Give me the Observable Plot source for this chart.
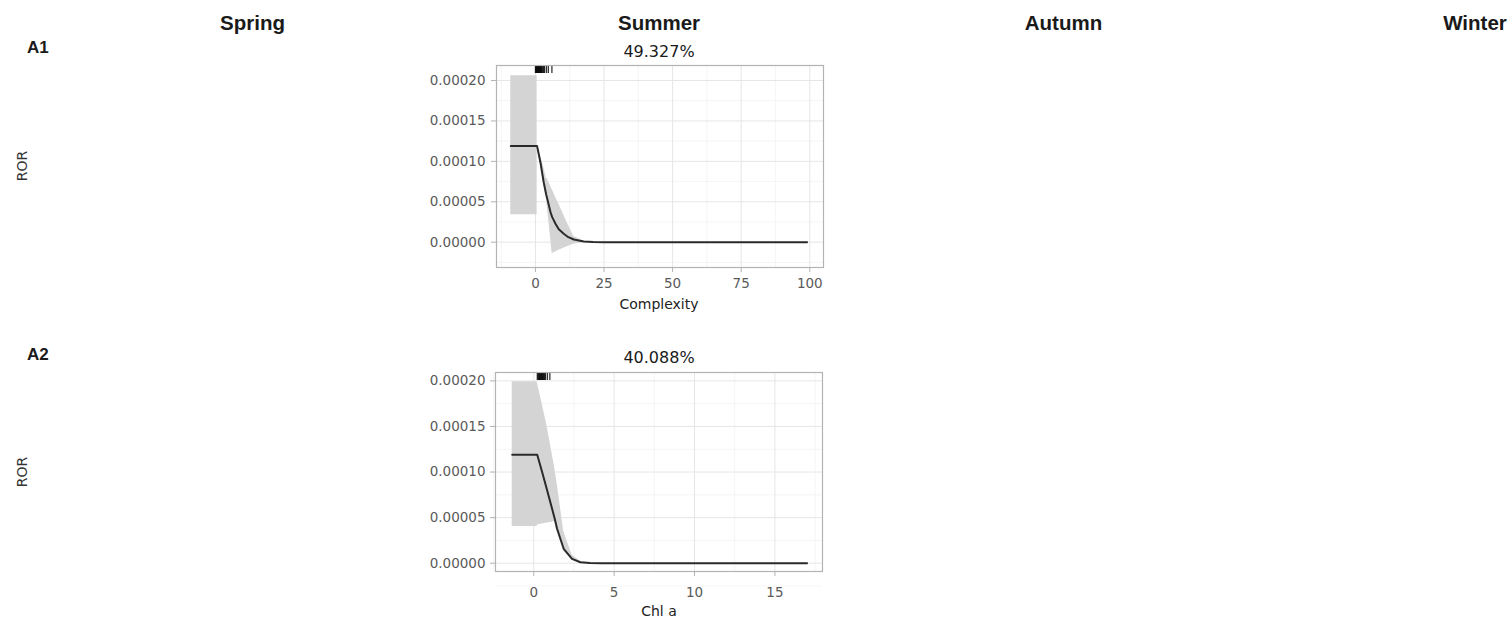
<!DOCTYPE html>
<html>
<head>
<meta charset="utf-8">
<script src="https://cdn.jsdelivr.net/npm/d3@7"></script>
<script src="https://cdn.jsdelivr.net/npm/@observablehq/plot@0.6"></script>
<style>
  html, body { margin: 0; padding: 0; background: #fff; }
  #page { position: relative; width: 1512px; height: 619px; overflow: hidden; background: #fff; }
  .txt { position: absolute; white-space: nowrap; line-height: 1; }
  .head { font-family: "Liberation Sans", Arial, sans-serif; font-weight: bold; font-size: 20.5px; color: #1a1a1a; transform: translateX(-50%); }
  .row { font-family: "Liberation Sans", Arial, sans-serif; font-weight: bold; font-size: 17px; color: #1a1a1a; }
  .ptitle { font-family: "DejaVu Sans", sans-serif; font-size: 16px; color: #1a1a1a; transform: translateX(-50%); }
  .xtitle { font-family: "DejaVu Sans", sans-serif; font-size: 14px; color: #222; transform: translateX(-50%); }
  .ytitle { font-family: "DejaVu Sans", sans-serif; font-size: 14px; color: #333; transform: translate(-50%, -50%) rotate(-90deg); }
  .panel { position: absolute; }
</style>
</head>
<body>
<div id="page"></div>
<script>
// ---------- data ----------
const seasons = ["Spring", "Summer", "Autumn", "Winter"];
const rowLabels = ["A1", "A2"];
const panelTitles = ["49.327%", "40.088%"];
const xTitles = ["Complexity", "Chl a"];
const yTitle = "ROR";

const yTicks = [0, 0.00005, 0.0001, 0.00015, 0.0002];
const complexityTicks = [0, 25, 50, 75, 100];
const chlTicks = [0, 5, 10, 15];

// Panel A1 : Complexity
const complexityX     = [-9, 0.6, 0.62, 1.8, 3.0, 3.9, 4.3, 5.0, 5.5, 6.1, 6.7, 7.3, 8.5, 10.3, 12, 14, 17.6, 21, 25, 99];
const complexityFit   = [1.19e-4, 1.19e-4, 1.185e-4, 9.9e-5, 7.43e-5, 5.9e-5, 5.37e-5, 4.4e-5, 3.71e-5, 3.1e-5, 2.7e-5, 2.28e-5, 1.6e-5, 1.04e-5, 6.2e-6, 3.3e-6, 9e-7, 2e-7, 0, 0];
const complexityUpper = [2.06e-4, 2.06e-4, 1.2e-4, 1.07e-4, 9.3e-5, 7.95e-5, 7.85e-5, 7.33e-5, 6.95e-5, 6.5e-5, 6.06e-5, 5.6e-5, 4.72e-5, 3.37e-5, 2.1e-5, 7e-6, 1.5e-6, 3e-7, 0, 0];
const complexityLower = [3.4e-5, 3.4e-5, 1.17e-4, 9.6e-5, 7.1e-5, 5.8e-5, 4.4e-5, 2.2e-5, 5.4e-6, -1.44e-5, -1.3e-5, -1.2e-5, -1.0e-5, -7.5e-6, -5e-6, -2.5e-6, -3e-7, 0, 0, 0];
const complexityRug   = [0, 0.2, 0.4, 0.6, 0.8, 1, 1.2, 1.4, 1.6, 1.8, 2, 2.2, 2.4, 2.7, 3, 3.3, 4, 4.7, 6];

// Panel A2 : Chl a
const chlX     = [-1.34, 0.21, 0.22, 0.52, 0.83, 1.14, 1.3, 1.45, 1.86, 2.38, 2.9, 3.5, 4.2, 17];
const chlFit   = [1.19e-4, 1.19e-4, 1.188e-4, 1.0e-4, 8.0e-5, 5.98e-5, 4.9e-5, 3.78e-5, 1.58e-5, 4.8e-6, 1.1e-6, 2e-7, 0, 0];
const chlUpper = [1.99e-4, 1.99e-4, 1.98e-4, 1.75e-4, 1.5e-4, 1.2e-4, 1.05e-4, 8.8e-5, 3.5e-5, 9e-6, 2e-6, 3e-7, 0, 0];
const chlLower = [4.03e-5, 4.03e-5, 4.2e-5, 4.3e-5, 4.4e-5, 4.5e-5, 4.6e-5, 3.6e-5, 1.45e-5, 4.2e-6, 9e-7, 1e-7, 0, 0];
const chlRug   = [0.22, 0.27, 0.31, 0.35, 0.39, 0.43, 0.47, 0.51, 0.55, 0.59, 0.63, 0.68, 0.73, 0.85, 1.0];

// ---------- layout ----------
const page = document.getElementById("page");
function addText(cls, text, left, top) {
  const d = document.createElement("div");
  d.className = "txt " + cls;
  d.textContent = text;
  d.style.left = left + "px";
  d.style.top = top + "px";
  page.appendChild(d);
}
const headerX = [252.5, 659, 1063.5, 1475];
seasons.forEach((s, i) => addText("head", s, headerX[i], 12.7));
addText("row", rowLabels[0], 27, 38.6);
addText("row", rowLabels[1], 27, 345.6);
addText("ptitle", panelTitles[0], 659, 43.5);
addText("ptitle", panelTitles[1], 659, 349.5);
addText("xtitle", xTitles[0], 659, 296.5);
addText("xtitle", xTitles[1], 659, 603.7);
addText("ytitle", yTitle, 22, 166);
addText("ytitle", yTitle, 22, 471.5);

function mid(a) { const m = []; for (let i = 0; i < a.length - 1; i++) m.push((a[i] + a[i + 1]) / 2); return m; }

function panel({xs, fit, lower, upper, rug, xTicks, xDomain, yDomain, left, top, frameH, xPad, yPad}) {
  const data = xs.map((x, i) => ({x, fit: fit[i], lo: lower[i], hi: upper[i]}));
  const xStep = xTicks[1] - xTicks[0];
  const xMinor = [xTicks[0] - xStep / 2, ...mid(xTicks), xTicks[xTicks.length - 1] + xStep / 2];
  const yMinor = [-0.000025, ...mid(yTicks)];
  const marginTop = 5, marginBottom = 50;
  const chart = Plot.plot({
    width: 400,
    height: marginTop + frameH + marginBottom,
    marginLeft: 70, marginRight: 3, marginTop, marginBottom,
    style: {fontFamily: "DejaVu Sans, sans-serif", fontSize: "13.5px", color: "#555", background: "transparent"},
    x: {domain: xDomain},
    y: {domain: yDomain},
    marks: [
      Plot.gridX(xMinor, {stroke: "#f1f1f1", strokeOpacity: 1, strokeWidth: 0.7}),
      Plot.gridY(yMinor, {stroke: "#f1f1f1", strokeOpacity: 1, strokeWidth: 0.7}),
      Plot.gridX(xTicks, {stroke: "#e6e6e6", strokeOpacity: 1, strokeWidth: 1}),
      Plot.gridY(yTicks, {stroke: "#e6e6e6", strokeOpacity: 1, strokeWidth: 1}),
      Plot.areaY(data, {x: "x", y1: "lo", y2: "hi", fill: "#d4d4d4"}),
      Plot.line(data, {x: "x", y: "fit", stroke: "#2a2a2a", strokeWidth: 2}),
      Plot.tickX(rug, {x: d => d, stroke: "#000", strokeWidth: 1.3, strokeOpacity: 0.8, insetBottom: frameH - 8}),
      Plot.axisX(xTicks, {tickSize: 5, tickPadding: xPad, stroke: "#b3b3b3", fill: "#5a5a5a", label: null}),
      Plot.axisY(yTicks, {tickSize: 5, tickPadding: yPad, tickFormat: d3.format(".5f"), stroke: "#b3b3b3", fill: "#5a5a5a", label: null}),
      Plot.frame({stroke: "#b3b3b3", strokeWidth: 1.2})
    ]
  });
  chart.classList.add("panel");
  chart.style.left = left + "px";
  chart.style.top = top + "px";
  page.appendChild(chart);
}

panel({xs: complexityX, fit: complexityFit, lower: complexityLower, upper: complexityUpper, rug: complexityRug,
  xTicks: complexityTicks, xDomain: [-14.2, 105], yDomain: [-0.0000313, 0.0002186],
  left: 426, top: 60, frameH: 202, xPad: 6, yPad: 6});
panel({xs: chlX, fit: chlFit, lower: chlLower, upper: chlUpper, rug: chlRug,
  xTicks: chlTicks, xDomain: [-2.38, 17.96], yDomain: [-0.0000091, 0.0002092],
  left: 425, top: 367, frameH: 199, xPad: 11, yPad: 5});
</script>
</body>
</html>
